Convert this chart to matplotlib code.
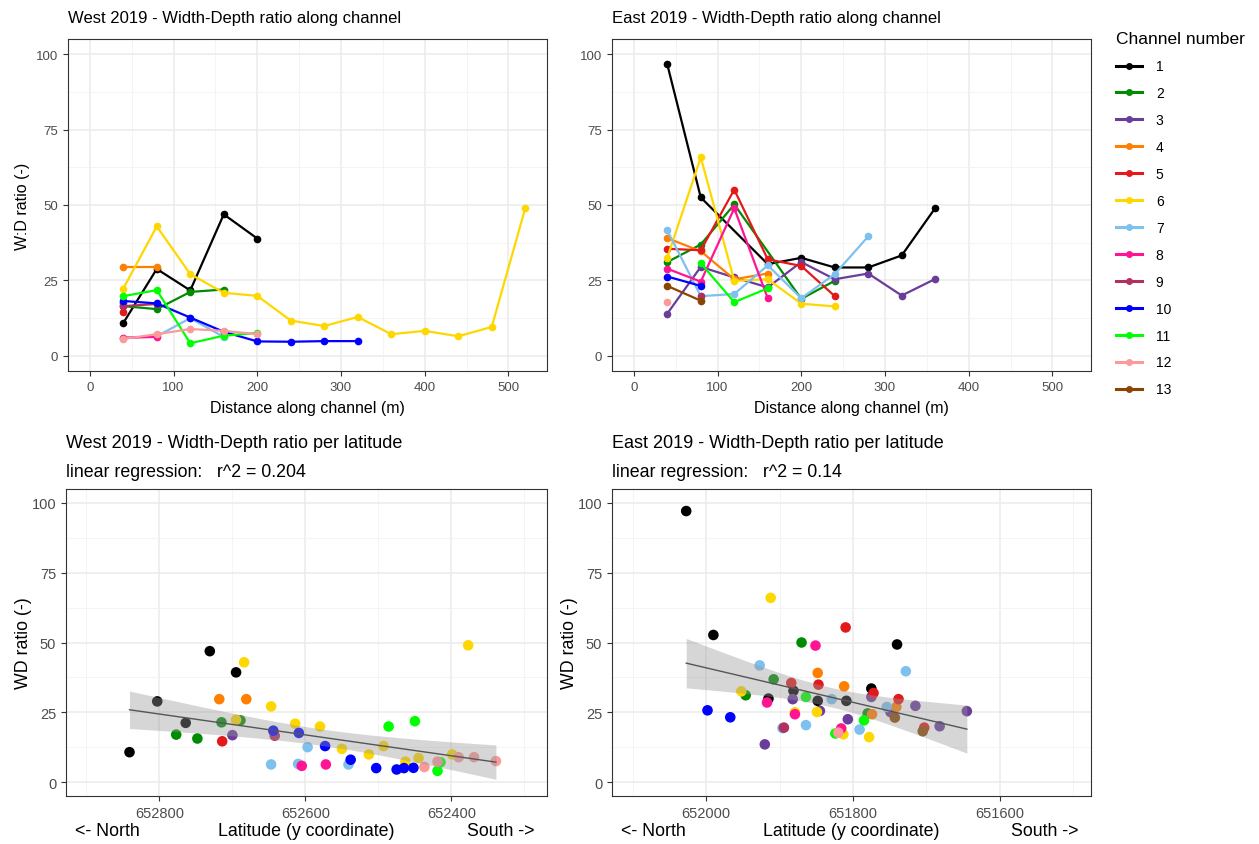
import matplotlib
matplotlib.use("Agg")
import matplotlib.pyplot as plt
from matplotlib.lines import Line2D
import numpy as np

plt.rcParams["font.family"] = ["Liberation Sans", "DejaVu Sans"]

channel_colors = {
    1: "#000000", 2: "#008B00", 3: "#6A3D9A", 4: "#FF7F00", 5: "#E31A1C",
    6: "#FFD700", 7: "#7EC0EE", 8: "#FF1493", 9: "#B03060", 10: "#0000FF",
    11: "#00FF00", 12: "#FB9A99", 13: "#8B4500",
}

# West 2019, distance along channel (m) and W:D ratio per channel
west_dist = {
    1: [40, 80, 120, 160, 200],
    2: [40, 80, 120, 160],
    3: [40],
    4: [40, 80],
    5: [40],
    6: [40, 80, 120, 160, 200, 240, 280, 320, 360, 400, 440, 480, 520],
    7: [40, 80, 120, 160],
    8: [40, 80],
    9: [40, 80],
    10: [40, 80, 120, 160, 200, 240, 280, 320],
    11: [40, 80, 120, 160, 200],
    12: [40, 80, 120, 160, 200],
}
west_wd = {
    1: [10.9, 28.8, 21.7, 46.9, 38.9],
    2: [16.5, 15.5, 21.2, 22.0],
    3: [17.5],
    4: [29.6, 29.6],
    5: [14.6],
    6: [22.3, 42.9, 27.1, 20.9, 19.9, 11.7, 9.9, 12.9, 7.2, 8.3, 6.5, 9.6, 48.9],
    7: [6.0, 6.5, 12.5, 6.3],
    8: [6.0, 6.3],
    9: [16.5, 17.2],
    10: [18.2, 17.4, 12.7, 8.0, 4.8, 4.7, 4.9, 4.9],
    11: [19.8, 21.8, 4.2, 6.7, 7.6],
    12: [5.6, 7.2, 8.9, 8.3, 7.2],
}

# East 2019
east_dist = {
    1: [40, 80, 160, 200, 240, 280, 320, 360],
    2: [40, 80, 120, 200, 240],
    3: [40, 80, 120, 160, 200, 240, 280, 320, 360],
    4: [40, 80, 120, 160],
    5: [40, 80, 120, 160, 200, 240],
    6: [40, 80, 120, 160, 200, 240],
    7: [40, 80, 120, 160, 200, 240, 280],
    8: [40, 80, 120, 160],
    9: [80],
    10: [40, 80],
    11: [80, 120, 160],
    12: [40],
    13: [40, 80],
}
east_wd = {
    1: [96.6, 52.5, 30.4, 32.5, 29.3, 29.3, 33.3, 49.0],
    2: [31.1, 36.9, 50.2, 18.9, 24.9],
    3: [14.0, 29.5, 26.0, 22.7, 31.1, 25.4, 27.3, 20.0, 25.5],
    4: [39.0, 34.7, 25.4, 27.3],
    5: [35.5, 35.0, 55.1, 32.0, 29.8, 19.8],
    6: [32.5, 65.8, 24.9, 25.4, 17.3, 16.4],
    7: [41.6, 19.8, 20.5, 30.0, 19.1, 27.1, 39.6],
    8: [28.9, 24.6, 48.9, 19.1],
    9: [20.0],
    10: [26.3, 23.2],
    11: [30.7, 17.8, 22.4],
    12: [18.0],
    13: [23.2, 18.3],
}

# West 2019 per latitude (channel, y coordinate, WD ratio)
west_ch = [1, 1, 1, 1, 1, 2, 2, 2, 2, 3, 4, 4, 5,
           6, 6, 6, 6, 6, 6, 6, 6, 6, 6, 6, 6,
           7, 7, 7, 7, 8, 8, 9,
           10, 10, 10, 10, 10, 10, 10, 10,
           11, 11, 11, 11, 12, 12, 12, 12, 12]
west_lat = [652841, 652803, 652764, 652731, 652695, 652777, 652748, 652715, 652689, 652700, 652718, 652681, 652714,
            652695, 652684, 652647, 652614, 652580, 652550, 652513, 652493, 652463, 652445, 652399, 652377,
            652647, 652610, 652597, 652541, 652605, 652572, 652642,
            652644, 652609, 652573, 652538, 652503, 652475, 652465, 652452,
            652486, 652450, 652415, 652419, 652437, 652419, 652390, 652369, 652339]
west_lat_wd = [10.7, 28.9, 21.2, 46.9, 39.3, 17.0, 15.6, 21.4, 22.1, 16.8, 29.7, 29.7, 14.6,
               22.3, 42.9, 27.1, 20.9, 19.9, 11.9, 9.9, 12.9, 7.3, 8.6, 9.9, 49.0,
               6.3, 6.5, 12.5, 6.3, 5.8, 6.3, 16.6,
               18.4, 17.6, 12.9, 8.0, 5.0, 4.5, 5.0, 5.1,
               19.9, 21.8, 7.1, 4.0, 5.4, 7.3, 8.9, 8.9, 7.5]

# East 2019 per latitude
east_ch = [1, 1, 1, 1, 1, 1, 1, 1,
           2, 2, 2, 2,
           3, 3, 3, 3, 3, 3, 3, 3, 3,
           4, 4, 4, 4,
           5, 5, 5, 5, 5, 5,
           6, 6, 6, 6, 6, 6,
           7, 7, 7, 7, 7, 7, 7,
           8, 8, 8, 8, 9, 10, 10, 11, 11, 11, 12, 13, 13]
east_lat = [652027, 651990, 651740, 651775, 651881, 651848, 651809, 651915,
            651870, 651908, 651946, 651780,
            651882, 651775, 651715, 651749, 651645, 651682, 651845, 651807, 651920,
            651848, 651812, 651741, 651774,
            651810, 651884, 651847, 651772, 651738, 651703,
            651912, 651952, 651849, 651879, 651813, 651778,
            651927, 651728, 651829, 651754, 651864, 651791, 651896,
            651851, 651917, 651879, 651816, 651894, 651998, 651967, 651864, 651785, 651824, 651820, 651743, 651705]
east_lat_wd = [97.1, 52.7, 49.3, 33.5, 32.7, 29.1, 29.1, 29.9,
               50.0, 36.8, 31.1, 24.6,
               29.7, 30.5, 27.3, 25.1, 25.4, 20.0, 25.5, 22.5, 13.5,
               39.1, 34.3, 26.9, 24.3,
               55.4, 35.5, 34.9, 31.9, 29.7, 19.5,
               66.0, 32.5, 25.1, 25.0, 17.1, 16.1,
               41.8, 39.7, 29.7, 26.9, 20.4, 18.8, 19.3,
               48.9, 28.5, 24.3, 19.2, 19.5, 25.7, 23.2, 30.5, 22.1, 17.4, 17.7, 23.1, 18.2]

W, H = 1259, 845
fig = plt.figure(figsize=(W / 100, H / 100), dpi=100)


def add_ax(left, top, right, bottom):
    return fig.add_axes([left / W, 1 - bottom / H, (right - left) / W, (bottom - top) / H])


def style_ax(ax, ticksize):
    for s in ax.spines.values():
        s.set_color("#333333")
        s.set_linewidth(0.8)
    ax.grid(True, which="major", color="#EBEBEB", linewidth=1.1, zorder=0)
    ax.grid(True, which="minor", color="#F2F2F2", linewidth=0.6, zorder=0)
    ax.set_axisbelow(True)
    ax.tick_params(which="major", length=3.5, width=0.8, color="#333333",
                   labelsize=ticksize, labelcolor="#4D4D4D")
    ax.tick_params(which="minor", length=0)
    ax.set_ylim(-5, 105)
    ax.set_yticks([0, 25, 50, 75, 100])
    ax.set_yticks([12.5, 37.5, 62.5, 87.5], minor=True)


def plot_distance(ax, dist, wd, title):
    style_ax(ax, 9.5)
    for ch in dist:
        ax.plot(dist[ch], wd[ch], color=channel_colors[ch], lw=1.6, marker="o",
                markersize=4.5, zorder=2 + ch * 0.1)
    ax.set_xlim(-26, 546)
    ax.set_xticks([0, 100, 200, 300, 400, 500])
    ax.set_xticks([50, 150, 250, 350, 450], minor=True)
    ax.set_xlabel("Distance along channel (m)", fontsize=11.5, labelpad=5)
    ax.set_title(title, loc="left", fontsize=12, pad=12)


def plot_latitude(ax, ch, lat, wd, title, r2, xlim, major, minor):
    style_ax(ax, 10.5)
    ch = np.array(ch)
    lat = np.array(lat, dtype=float)
    wd = np.array(wd, dtype=float)
    for c in sorted(set(ch)):
        m = ch == c
        ax.scatter(lat[m], wd[m], s=58, color=channel_colors[c], edgecolors="none", zorder=3)

    # linear fit with 95% confidence band
    b, a = np.polyfit(lat, wd, 1)
    xs = np.linspace(lat.min(), lat.max(), 100)
    ys = a + b * xs
    n = len(lat)
    resid = wd - (a + b * lat)
    s = np.sqrt(np.sum(resid ** 2) / (n - 2))
    se = s * np.sqrt(1 / n + (xs - lat.mean()) ** 2 / np.sum((lat - lat.mean()) ** 2))
    ax.fill_between(xs, ys - 2.01 * se, ys + 2.01 * se, color="#999999", alpha=0.4,
                    linewidth=0, zorder=4)
    ax.plot(xs, ys, color="#555555", lw=1.0, zorder=5)

    ax.set_xlim(*xlim)
    ax.set_xticks(major)
    ax.set_xticks(minor, minor=True)
    ax.set_xticklabels([str(v) for v in major])
    ax.set_ylabel("WD ratio (-)", fontsize=12.8, labelpad=0)
    ax.text(0.019, -0.085, "<- North", transform=ax.transAxes, fontsize=12.8, ha="left", va="top")
    ax.text(0.5, -0.085, "Latitude (y coordinate)", transform=ax.transAxes, fontsize=12.8,
            ha="center", va="top")
    ax.text(0.974, -0.085, "South ->", transform=ax.transAxes, fontsize=12.8, ha="right", va="top")
    ax.text(0.0, 1.125, title, transform=ax.transAxes, fontsize=13, ha="left", va="bottom")
    ax.text(0.0, 1.03, "linear regression:   r^2 = " + r2, transform=ax.transAxes,
            fontsize=12.8, ha="left", va="bottom")


ax1 = add_ax(68, 40, 547, 372)
plot_distance(ax1, west_dist, west_wd, "West 2019 - Width-Depth ratio along channel")
ax1.set_ylabel("W:D ratio (-)", fontsize=11.5)

ax2 = add_ax(612, 40, 1091, 372)
plot_distance(ax2, east_dist, east_wd, "East 2019 - Width-Depth ratio along channel")

ax3 = add_ax(66, 490, 547, 797)
plot_latitude(ax3, west_ch, west_lat, west_lat_wd, "West 2019 - Width-Depth ratio per latitude",
              "0.204", (652928, 652269), [652800, 652600, 652400], [652900, 652700, 652500, 652300])

ax4 = add_ax(612, 490, 1091, 797)
plot_latitude(ax4, east_ch, east_lat, east_lat_wd, "East 2019 - Width-Depth ratio per latitude",
              "0.14", (652128, 651476), [652000, 651800, 651600], [652100, 651900, 651700, 651500])

handles = [Line2D([], [], color=channel_colors[c], lw=2.2, marker="o", markersize=4) for c in channel_colors]
fig.legend(handles, [str(c) for c in channel_colors], title="Channel number",
           loc="upper left", bbox_to_anchor=(1103 / W, 1 - 20 / H), frameon=False,
           fontsize=10, title_fontsize=12.5, handlelength=1.9, labelspacing=0.93,
           handletextpad=1.0, alignment="left")

fig.savefig("out.png", dpi=100)
